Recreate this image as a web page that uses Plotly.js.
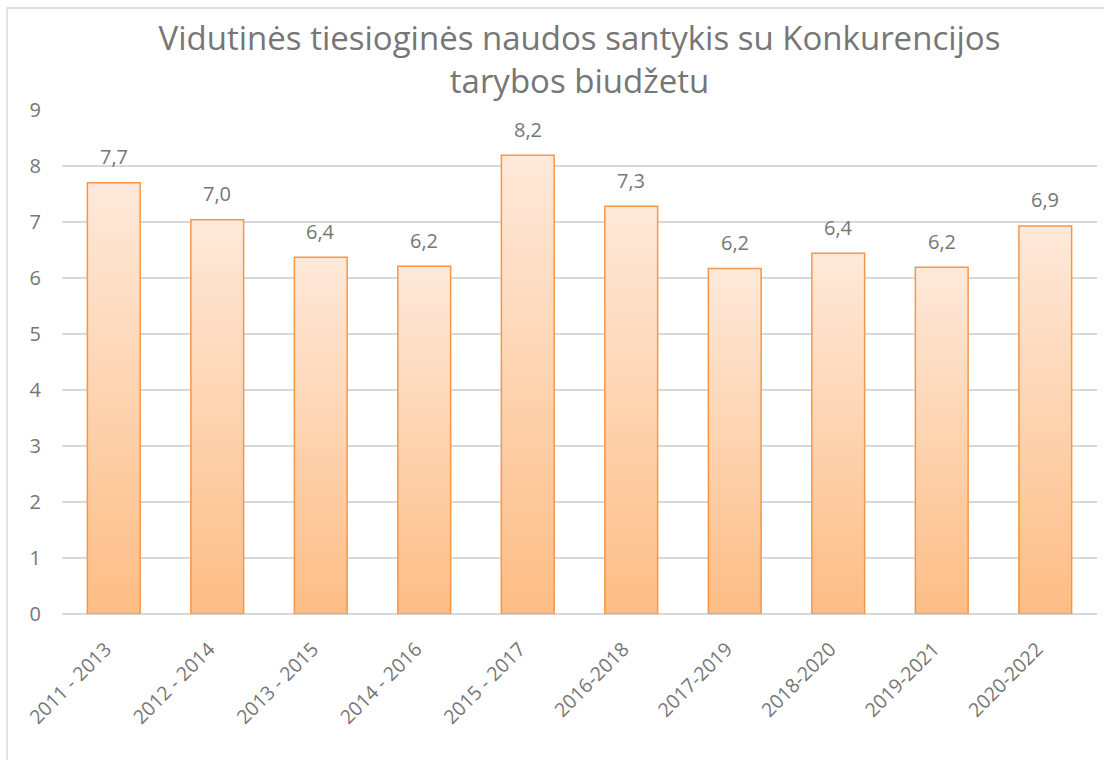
<!DOCTYPE html>
<html>
<head>
<meta charset="utf-8">
<script src="https://cdn.plot.ly/plotly-3.0.1.min.js"></script>
<style>html,body{margin:0;padding:0;background:#fff;}#chart{width:1104px;height:760px;}</style>
</head>
<body>
<div id="chart"></div>
<script>
const categories = ["2011 - 2013","2012 - 2014","2013 - 2015","2014 - 2016","2015 - 2017","2016-2018","2017-2019","2018-2020","2019-2021","2020-2022"];
const values = [7.70, 7.04, 6.37, 6.21, 8.19, 7.28, 6.17, 6.44, 6.19, 6.93];
const valueLabels = ["7,7","7,0","6,4","6,2","8,2","7,3","6,2","6,4","6,2","6,9"];
const yTicks = [0,1,2,3,4,5,6,7,8,9];
const titleText = "Vidutinės tiesioginės naudos santykis su Konkurencijos<br>tarybos biudžetu";

const FONT = "'Open Sans', 'Noto Sans', sans-serif";
const GRAY = "#767676";

const trace = {
  type: "bar",
  x: categories,
  y: values,
  marker: { color: "#fdd3b0", line: { color: "#f79646", width: 1.5 } },
  hoverinfo: "x+y"
};

const annotations = categories.map((c, i) => ({
  x: c, y: values[i], xref: "x", yref: "y",
  text: valueLabels[i], showarrow: false,
  yanchor: "middle", yshift: 26,
  font: { family: FONT, size: 20, color: GRAY }
}));

const layout = {
  width: 1104, height: 760,
  paper_bgcolor: "#ffffff", plot_bgcolor: "#ffffff",
  margin: { l: 62, r: 7, t: 110, b: 146 },
  bargap: 0.49,
  showlegend: false,
  title: {
    text: titleText,
    font: { family: FONT, size: 33, color: GRAY },
    x: 0.5, xanchor: "center", xref: "paper",
    y: 0.934, yanchor: "middle", yref: "container"
  },
  xaxis: {
    type: "category",
    tickangle: -45,
    tickfont: { family: FONT, size: 19.5, color: GRAY },
    showgrid: false, zeroline: false,
    showline: false, ticks: "",
    ticklabelstandoff: 19,
    ticklabelshift: -8
  },
  yaxis: {
    range: [0, 9],
    tickvals: yTicks,
    ticktext: yTicks.map(String),
    tickfont: { family: FONT, size: 20, color: GRAY },
    showgrid: true, gridcolor: "#d9d9d9", gridwidth: 1.5,
    zeroline: true, zerolinecolor: "#d9d9d9", zerolinewidth: 1.5,
    showline: false, ticks: "",
    ticklabelstandoff: 20
  },
  annotations: annotations,
  shapes: [{
    type: "rect", xref: "paper", yref: "paper", layer: "below",
    x0: -0.0531, x1: 1.2, y0: -0.5, y1: 1.2024,
    line: { color: "#d9d9d9", width: 1.5 }, fillcolor: "rgba(0,0,0,0)"
  }]
};

function applyGradient(gd) {
  const svg = gd.querySelector("svg.main-svg");
  if (!svg) return;
  let defs = svg.querySelector("defs");
  if (!defs) { defs = document.createElementNS("http://www.w3.org/2000/svg", "defs"); svg.insertBefore(defs, svg.firstChild); }
  if (!svg.querySelector("#barGrad")) {
    const lg = document.createElementNS("http://www.w3.org/2000/svg", "linearGradient");
    lg.setAttribute("id", "barGrad");
    lg.setAttribute("x1", "0"); lg.setAttribute("y1", "0");
    lg.setAttribute("x2", "0"); lg.setAttribute("y2", "1");
    [["0%", "#fee9da"], ["100%", "#fdbd85"]].forEach(([o, c]) => {
      const s = document.createElementNS("http://www.w3.org/2000/svg", "stop");
      s.setAttribute("offset", o); s.setAttribute("stop-color", c);
      lg.appendChild(s);
    });
    defs.appendChild(lg);
  }
  gd.querySelectorAll(".barlayer .point path").forEach(p => {
    p.style.fill = "url(#barGrad)";
    p.style.fillOpacity = 1;
  });
}

const gd = document.getElementById("chart");
Plotly.newPlot(gd, [trace], layout, { displayModeBar: false, staticPlot: true }).then(() => applyGradient(gd));
gd.on && gd.on("plotly_afterplot", () => applyGradient(gd));
</script>
</body>
</html>
